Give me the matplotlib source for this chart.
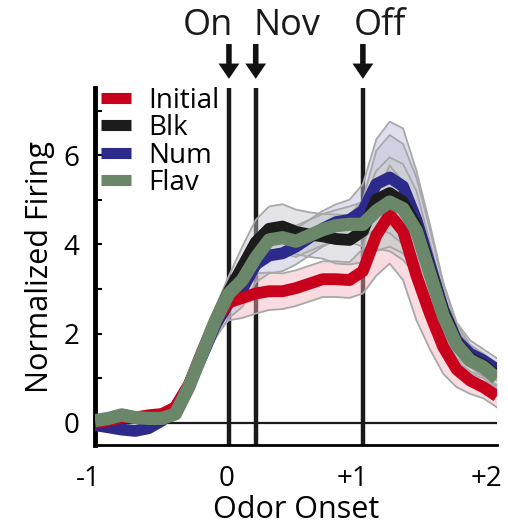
from matplotlib import pyplot as plt
from matplotlib.lines import Line2D
import matplotlib.transforms as mtransforms
import numpy as np

plt.rcParams['font.family'] = ['Open Sans', 'DejaVu Sans']

# time from odor onset (s)
t = [-1.0, -0.9, -0.8, -0.7, -0.6, -0.5, -0.4, -0.3, -0.2, -0.1,
     0.0, 0.1, 0.2, 0.3, 0.4, 0.5, 0.6, 0.7, 0.8, 0.9,
     1.0, 1.1, 1.2, 1.3, 1.4, 1.5, 1.6, 1.7, 1.8, 1.9, 2.0]

initial = [0.0, 0.05, 0.12, 0.12, 0.17, 0.2, 0.35, 0.85, 1.6, 2.3,
           2.7, 2.8, 2.9, 2.95, 2.95, 3.02, 3.12, 3.22, 3.22, 3.2,
           3.4, 4.2, 4.67, 4.3, 3.3, 2.45, 1.7, 1.2, 0.95, 0.8, 0.6]
blk = [0.05, 0.1, 0.18, 0.12, 0.1, 0.1, 0.2, 0.8, 1.55, 2.3,
       2.95, 3.5, 4.05, 4.35, 4.4, 4.28, 4.22, 4.18, 4.12, 4.1,
       4.3, 5.0, 5.15, 4.95, 4.4, 3.45, 2.5, 1.8, 1.45, 1.3, 1.05]
num = [-0.05, -0.1, -0.15, -0.18, -0.12, 0.05, 0.35, 0.85, 1.5, 2.2,
       2.7, 3.0, 3.55, 3.75, 3.8, 3.95, 4.15, 4.35, 4.5, 4.55,
       4.75, 5.35, 5.5, 5.3, 4.55, 3.55, 2.55, 1.85, 1.55, 1.4, 1.2]
flav = [0.05, 0.1, 0.18, 0.12, 0.1, 0.1, 0.2, 0.8, 1.55, 2.3,
        2.9, 3.2, 3.7, 4.1, 4.15, 4.07, 4.2, 4.33, 4.42, 4.45,
        4.45, 4.75, 4.95, 4.8, 4.3, 3.35, 2.4, 1.75, 1.4, 1.25, 1.0]

# s.e.m. bands
initial_sem = [0.1, 0.1, 0.1, 0.1, 0.1, 0.1, 0.12, 0.15, 0.2, 0.3,
               0.4, 0.45, 0.45, 0.42, 0.4, 0.4, 0.4, 0.4, 0.4, 0.4,
               0.5, 0.9, 1.1, 1.1, 1.0, 0.8, 0.6, 0.4, 0.3, 0.25, 0.25]
blk_sem = [0.1, 0.1, 0.1, 0.1, 0.1, 0.1, 0.12, 0.15, 0.2, 0.3,
           0.35, 0.45, 0.5, 0.5, 0.5, 0.5, 0.5, 0.5, 0.55, 0.55,
           0.7, 1.1, 1.3, 1.3, 1.1, 0.9, 0.6, 0.4, 0.3, 0.25, 0.25]
num_sem = [0.1, 0.1, 0.1, 0.1, 0.1, 0.1, 0.12, 0.15, 0.2, 0.3,
           0.35, 0.4, 0.4, 0.4, 0.4, 0.4, 0.4, 0.4, 0.4, 0.45,
           0.6, 1.0, 1.25, 1.3, 1.1, 0.9, 0.6, 0.4, 0.3, 0.25, 0.25]
flav_sem = [0.1, 0.1, 0.1, 0.1, 0.1, 0.1, 0.12, 0.15, 0.2, 0.3,
            0.3, 0.35, 0.35, 0.35, 0.35, 0.35, 0.35, 0.35, 0.35, 0.4,
            0.5, 0.9, 1.0, 1.0, 0.9, 0.7, 0.5, 0.35, 0.3, 0.25, 0.25]

labels = ["Initial", "Blk", "Num", "Flav"]
colors = ["#c8001c", "#1c1c1c", "#2c2a8a", "#6a876a"]
band_colors = ["#f4b0b8", "#c4c4cc", "#b8b8dc", "#c8d0c8"]
means = [initial, blk, num, flav]
sems = [initial_sem, blk_sem, num_sem, flav_sem]

events = [0.0, 0.2, 1.0]
event_names = ["On", "Nov", "Off"]
event_text_x = [-0.16, 0.43, 1.13]

fig = plt.figure(figsize=(5.08, 5.25), dpi=100)
ax = fig.add_axes([0.187, 0.152, 0.791, 0.68])

# bands
tt = np.array(t)
for m, s, bc in zip(means, sems, band_colors):
    m = np.array(m)
    s = np.array(s)
    ax.fill_between(tt, m - s, m + s, color=bc, alpha=0.45, lw=0, zorder=2)
    ax.plot(tt, m + s, c="#a8a8a8", lw=1.3, zorder=2.5)
    ax.plot(tt, m - s, c="#a8a8a8", lw=1.3, zorder=2.5)

# mean traces, drawn in the order seen in the figure
order = [2, 1, 0, 3]
widths = [8.5, 8.5, 8.5, 9.5]
for i in order:
    ax.plot(tt, means[i], c=colors[i], lw=widths[i], solid_capstyle="butt",
            solid_joinstyle="round", zorder=3 + order.index(i))

# event markers
for ev in events:
    ax.axvline(ev, c="#1a1a1a", lw=3.2, zorder=1)
ax.axhline(0, c="#1a1a1a", lw=1.6, zorder=1)

for ev, name, tx in zip(events, event_names, event_text_x):
    ax.annotate("", xy=(ev, 7.71), xytext=(ev, 8.49),
                arrowprops=dict(facecolor="#111111", edgecolor="none",
                                width=4, headwidth=15, headlength=11,
                                shrink=0),
                annotation_clip=False)
    ax.text(tx, 8.9, name, ha="center", va="center", fontsize=26,
            color="#1a1a1a", clip_on=False)

ax.set_xlim(-1, 2)
ax.set_ylim(-0.5, 7.5)
ax.set_xticks([-1, 0, 1, 2])
ax.set_xticklabels(["-1", "0", "+1", "+2"])
ax.set_yticks([0, 2, 4, 6])
ax.set_yticks([1, 3, 5, 7], minor=True)
ax.tick_params(axis="x", length=0, pad=14, labelsize=20)
ax.tick_params(axis="y", which="both", direction="in", length=5, width=1.5,
               pad=11, labelsize=20)
shift = mtransforms.ScaledTranslation(4 / 72, 0, fig.dpi_scale_trans)
for lab in ax.get_xticklabels():
    lab.set_horizontalalignment("right")
    lab.set_transform(lab.get_transform() + shift)
ax.spines["top"].set_visible(False)
ax.spines["right"].set_visible(False)
ax.spines["left"].set_linewidth(3.5)
ax.spines["bottom"].set_linewidth(2)

ax.set_xlabel("Odor Onset", fontsize=22, labelpad=2)
ax.set_ylabel("Normalized Firing", fontsize=22, labelpad=6)

handles = [Line2D([], [], c=c, lw=8, solid_capstyle="butt") for c in colors]
ax.legend(handles, labels, loc="upper left", bbox_to_anchor=(0.0, 1.02),
          frameon=False, fontsize=20, handlelength=1.1, handletextpad=0.6,
          labelspacing=-0.02, borderpad=0.2, borderaxespad=0)

fig.savefig("out.png", dpi=100)
